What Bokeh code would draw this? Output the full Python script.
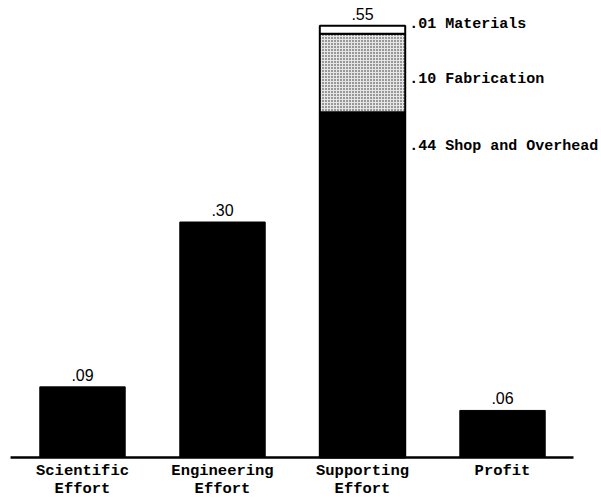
from bokeh.plotting import figure
from bokeh.models import Range1d
from bokeh.core.properties import value
from bokeh.embed import file_html
from bokeh.resources import INLINE

# ---- data ----
categories = ["Scientific\nEffort", "Engineering\nEffort", "Supporting\nEffort", "Profit"]
totals = [0.09, 0.30, 0.55, 0.06]
total_labels = [".09", ".30", ".55", ".06"]
stacked_index = 2
support_parts = ["Shop and Overhead", "Fabrication", "Materials"]
support_values = [0.44, 0.10, 0.01]
support_labels = [".44", ".10", ".01"]

MONO = value("Liberation Mono")
SANS = value("Liberation Sans")

p = figure(width=601, height=498, output_backend="svg", toolbar_location=None,
           x_range=Range1d(-0.5857, 3.707), y_range=Range1d(-0.0522, 0.5822),
           min_border=0, outline_line_color=None)
p.axis.visible = False
p.grid.visible = False
p.background_fill_color = "white"
p.border_fill_color = "white"

W = 0.61
xs = list(range(len(categories)))

# simple bars
sx = [x for x in xs if x != stacked_index]
st = [totals[x] for x in sx]
p.vbar(x=sx, top=st, bottom=0, width=W, fill_color="black", line_color="black")

# stacked bar
bottoms, tops = [], []
acc = 0.0
for v in support_values:
    bottoms.append(acc)
    acc += v
    tops.append(acc)
fills = ["black", "#e6e6e6", "white"]
hatches = [None, "dot", None]
for b, t, f, h in zip(bottoms, tops, fills, hatches):
    kw = {}
    if h:
        kw = dict(hatch_pattern=h, hatch_color="black", hatch_scale=3.0, hatch_weight=1.8,
                  hatch_alpha=0.85)
    p.vbar(x=[stacked_index], top=[t], bottom=[b], width=W, fill_color=f,
           line_color="black", line_width=2, **kw)

# baseline
p.segment(x0=[-0.514], y0=[0], x1=[len(categories) - 0.493], y1=[0],
          line_color="black", line_width=2.5)

# value labels above bars
p.text(x=xs, y=totals, text=total_labels, text_align="center", text_baseline="bottom",
       y_offset=-6, text_font=SANS, text_font_size="16px", text_color="black")

# category labels (two lines)
line1 = [c.split("\n")[0] for c in categories]
line2 = [c.split("\n")[1] if "\n" in c else "" for c in categories]
p.text(x=xs, y=[0] * len(xs), text=line1, text_align="center", text_baseline="middle",
       y_offset=13, text_font=MONO, text_font_size="15.5px", text_font_style="bold",
       text_color="black")
p.text(x=xs, y=[0] * len(xs), text=line2, text_align="center", text_baseline="middle",
       y_offset=31, text_font=MONO, text_font_size="15.5px", text_font_style="bold",
       text_color="black")

# segment annotations
ann_y = [tops[0], (bottoms[1] + tops[1]) / 2, tops[2]]
ann_off = [34, 7, -1]
ann_text = [f"{l} {n}" for l, n in zip(support_labels, support_parts)]
for y, off, t in zip(ann_y, ann_off, ann_text):
    p.text(x=[stacked_index + W / 2], y=[y], text=[t], text_align="left",
           text_baseline="middle", x_offset=4, y_offset=off, text_font=MONO,
           text_font_size="15px", text_font_style="bold", text_color="black")

open("out.html", "w").write(file_html(p, INLINE))
